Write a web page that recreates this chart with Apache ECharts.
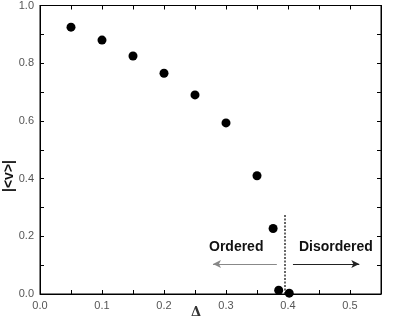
<!DOCTYPE html>
<html>
<head>
<meta charset="utf-8">
<script src="https://cdn.jsdelivr.net/npm/echarts@6/dist/echarts.min.js"></script>
<style>
  html, body { margin: 0; padding: 0; background: #fff; }
  #chart { width: 395px; height: 322px; }
</style>
</head>
<body>
<div id="chart"></div>
<script>
// values
const deltaValues = [0.05, 0.1, 0.15, 0.2, 0.25, 0.3, 0.35, 0.376, 0.385, 0.402];
const orderValues = [0.925, 0.88, 0.825, 0.765, 0.69, 0.593, 0.41, 0.227, 0.013, 0.003];
const transitionX = 0.394;
const transitionTop = 0.277;
const arrowY = 0.104;
const orderedArrow = [0.382, 0.279];
const disorderedArrow = [0.408, 0.515];

const chart = echarts.init(document.getElementById('chart'));

const font = 'Liberation Sans, Arial, sans-serif';
const tickFmt = v => v.toFixed(1);

function frameAxis(extra, withLabels) {
  return Object.assign({
    type: 'value',
    gridIndex: 0,
    show: true,
    axisLine: { show: true, onZero: false, lineStyle: { color: '#000', width: 1 } },
    axisTick: { show: true, inside: true, length: 4, lineStyle: { color: '#000' } },
    minorTick: { show: true, splitNumber: 2, length: 4, lineStyle: { color: '#000' } },
    splitLine: { show: false },
    axisLabel: withLabels
      ? { color: '#555', fontSize: 11, fontFamily: font, formatter: tickFmt, showMaxLabel: extra.max === 1, margin: 6 }
      : { show: false }
  }, extra);
}

const option = {
  animation: false,
  grid: { left: 40, right: 14, top: 5, bottom: 28, show: true, borderColor: '#000', borderWidth: 1 },
  xAxis: [
    frameAxis({ min: 0, max: 0.55, interval: 0.1, position: 'bottom' }, true),
    frameAxis({ min: 0, max: 0.55, interval: 0.1, position: 'top' }, false)
  ],
  yAxis: [
    frameAxis({ min: 0, max: 1, interval: 0.2, position: 'left' }, true),
    frameAxis({ min: 0, max: 1, interval: 0.2, position: 'right' }, false)
  ],
  series: [
    {
      type: 'scatter',
      data: deltaValues.map((d, i) => [d, orderValues[i]]),
      symbolSize: 9,
      itemStyle: { color: '#000', opacity: 1 },
      z: 5,
      markLine: {
        silent: true,
        label: { show: false },
        data: [
          [
            { coord: [transitionX, 0], symbol: 'none' },
            { coord: [transitionX, transitionTop], symbol: 'none', lineStyle: { color: '#333', type: [2, 1.5], width: 1.5 } }
          ],
          [
            { coord: [orderedArrow[0], arrowY], symbol: 'none' },
            { coord: [orderedArrow[1], arrowY], symbol: 'arrow', symbolSize: [6, 8], lineStyle: { color: '#888', type: 'solid', width: 1 } }
          ],
          [
            { coord: [disorderedArrow[0], arrowY], symbol: 'none' },
            { coord: [disorderedArrow[1], arrowY], symbol: 'arrow', symbolSize: [6, 8], lineStyle: { color: '#222', type: 'solid', width: 1 } }
          ]
        ]
      }
    },
    // empty series so the mirrored top/right axes get drawn
    { type: 'scatter', xAxisIndex: 1, yAxisIndex: 1, data: [] }
  ],
  graphic: [
    { type: 'text', left: 209, top: 240, style: { text: 'Ordered', font: 'bold 14px ' + font, fill: '#111' } },
    { type: 'text', left: 299, top: 240, style: { text: 'Disordered', font: 'bold 14px ' + font, fill: '#111' } },
    { type: 'text', left: 191, top: 306, style: { text: 'Δ', font: 'bold 13px DejaVu Serif, serif', fill: '#333' } },
    { type: 'text', x: 9, y: 176, rotation: Math.PI / 2, style: { text: '|<v>|', font: 'bold 14px ' + font, fill: '#111', align: 'center', verticalAlign: 'middle' } }
  ]
};

chart.setOption(option);
window.addEventListener('resize', () => chart.resize());
</script>
</body>
</html>
